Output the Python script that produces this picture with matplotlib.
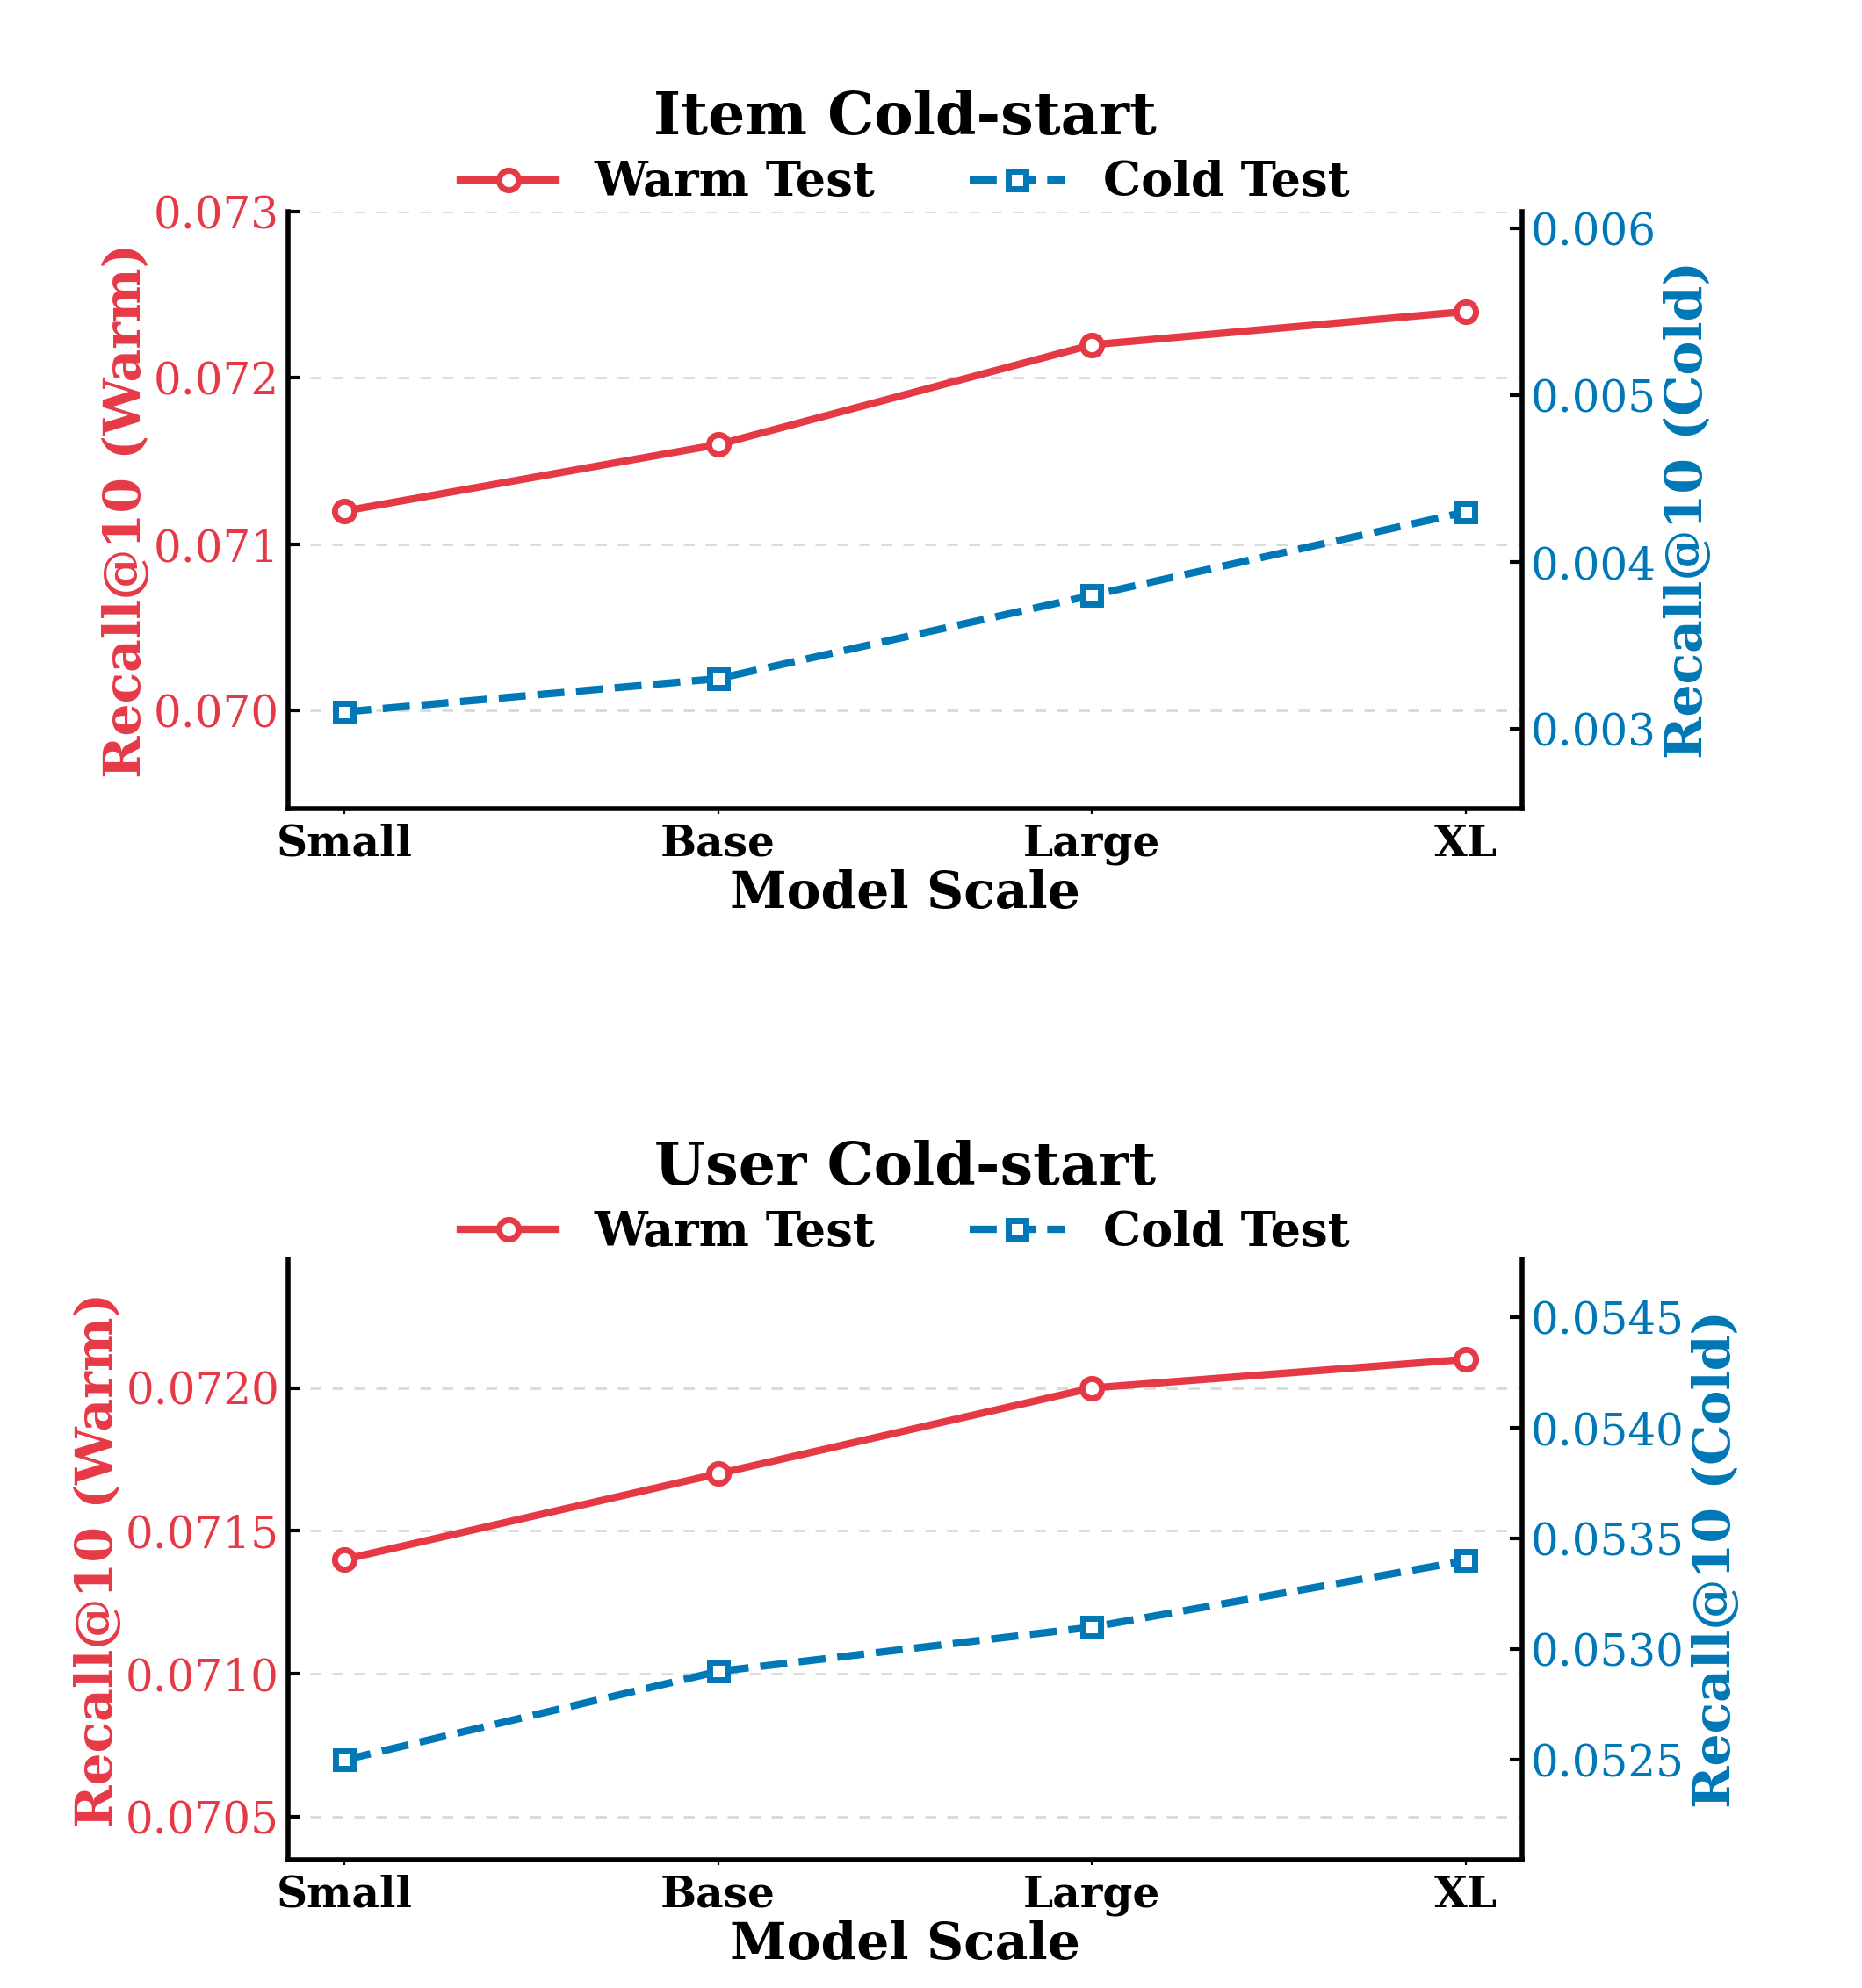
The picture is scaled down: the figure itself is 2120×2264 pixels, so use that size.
import matplotlib
matplotlib.use("Agg")
import matplotlib.pyplot as plt

categories = ["Small", "Base", "Large", "XL"]

item_warm = [0.0712, 0.0716, 0.0722, 0.0724]
item_cold = [0.0031, 0.0033, 0.0038, 0.0043]
user_warm = [0.0714, 0.0717, 0.0720, 0.0721]
user_cold = [0.0525, 0.0529, 0.0531, 0.0534]

item_warm_ticks = [0.070, 0.071, 0.072, 0.073]
item_cold_ticks = [0.003, 0.004, 0.005, 0.006]
user_warm_ticks = [0.0705, 0.0710, 0.0715, 0.0720]
user_cold_ticks = [0.0525, 0.0530, 0.0535, 0.0540, 0.0545]

titles = ["Item Cold-start", "User Cold-start"]

RED = "#E63946"
BLUE = "#0077B6"

plt.rcParams["font.family"] = ["DejaVu Serif"]

fig = plt.figure(figsize=(10.6, 11.32), dpi=200)

panels = [
    dict(rect=[0.1547, 0.5932, 0.6628, 0.3003], warm=item_warm, cold=item_cold,
         wt=item_warm_ticks, ct=item_cold_ticks, wlim=(0.06941, 0.0730), clim=(0.00252, 0.0061),
         wfmt="{:.3f}", cfmt="{:.3f}", title=titles[0], ty=1.157, ly=1.048),
    dict(rect=[0.1547, 0.0645, 0.6628, 0.3021], warm=user_warm, cold=user_cold,
         wt=user_warm_ticks, ct=user_cold_ticks, wlim=(0.07035, 0.07245), clim=(0.05205, 0.05476),
         wfmt="{:.4f}", cfmt="{:.4f}", title=titles[1], ty=1.152, ly=1.044),
]

x = list(range(len(categories)))
for p in panels:
    ax = fig.add_axes(p["rect"])
    ax2 = ax.twinx()
    l1, = ax.plot(x, p["warm"], color=RED, lw=3, marker="o", ms=8,
                  mfc="white", mec=RED, mew=2.5, label="Warm Test", zorder=3)
    l2, = ax2.plot(x, p["cold"], color=BLUE, lw=3, ls="--", marker="s", ms=7.5,
                   mfc="white", mec=BLUE, mew=2.5, label="Cold Test", zorder=3)
    ax.set_xlim(-0.15, 3.15)
    ax.set_ylim(*p["wlim"])
    ax2.set_ylim(*p["clim"])
    ax.set_yticks(p["wt"])
    ax.set_yticklabels([p["wfmt"].format(v) for v in p["wt"]])
    ax2.set_yticks(p["ct"])
    ax2.set_yticklabels([p["cfmt"].format(v) for v in p["ct"]])
    ax.set_xticks(x)
    ax.set_xticklabels(categories, fontsize=17.5, fontweight="bold")
    ax.tick_params(axis="y", direction="in", length=5, width=1.5, labelcolor=RED, color="black", labelsize=18)
    ax2.tick_params(axis="y", direction="in", length=5, width=1.5, labelcolor=BLUE, color="black", labelsize=18)
    ax.tick_params(axis="x", direction="out", length=2, width=0.8, pad=4)
    ax.grid(axis="y", ls=(0, (4.5, 4.5)), color="#d9d9d9", lw=1.0)
    ax.set_axisbelow(True)
    for s in ["top", "right"]:
        ax.spines[s].set_visible(False)
    for s in ["top", "left", "bottom"]:
        ax2.spines[s].set_visible(False)
    ax.spines["left"].set_linewidth(2)
    ax.spines["bottom"].set_linewidth(2)
    ax2.spines["right"].set_linewidth(2)
    ax.set_xlabel("Model Scale", fontsize=21, fontweight="bold", labelpad=2)
    ax.set_ylabel("Recall@10 (Warm)", fontsize=21, fontweight="bold", color=RED, labelpad=1)
    ax2.set_ylabel("Recall@10 (Cold)", fontsize=21, fontweight="bold", color=BLUE, labelpad=3)
    ax.text(0.5, p["ty"], p["title"], transform=ax.transAxes, ha="center", va="center",
            fontsize=24, fontweight="bold")
    ax.legend([l1, l2], ["Warm Test", "Cold Test"], loc="center", bbox_to_anchor=(0.5, p["ly"]),
              ncol=2, frameon=False, prop=dict(size=19.5, weight="bold"), columnspacing=2.0,
              handlelength=2.0)

fig.savefig("out.png", dpi=200)
